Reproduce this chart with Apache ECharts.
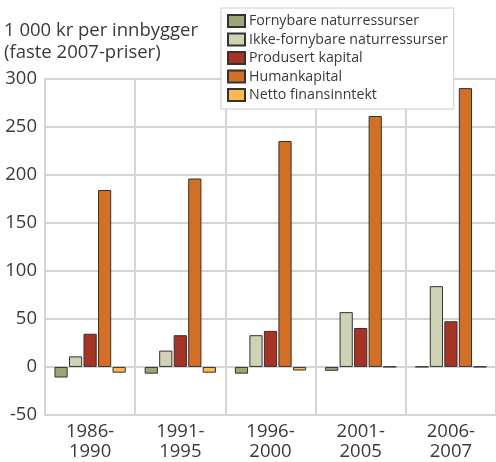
<!DOCTYPE html>
<html>
<head>
<meta charset="utf-8">
<script src="https://cdn.jsdelivr.net/npm/echarts@6/dist/echarts.min.js"></script>
<style>
  html, body { margin: 0; padding: 0; background: #fff; }
  #chart { width: 496px; height: 462px; }
</style>
</head>
<body>
<div id="chart"></div>
<script>
// perioder
const periods = ['1986-\n1990', '1991-\n1995', '1996-\n2000', '2001-\n2005', '2006-\n2007'];

// 1 000 kr per innbygger
const fornybare = [-11, -7, -7, -4, 0.2];
const ikkeFornybare = [11, 17, 33, 57, 84];
const produsert = [34.5, 33, 37.5, 40.5, 47.5];
const human = [184, 196, 235, 261, 290];
const netto = [-6, -6, -3.7, 0.2, 0.2];

const yTicks = { min: -50, max: 300, step: 50 };

const chart = echarts.init(document.getElementById('chart'));

const font = '"Open Sans", "Noto Sans", sans-serif';
const gridColor = '#d4d4d4';
const textColor = '#3a3a3a';

const makeBar = (name, data, color) => ({
  name: name,
  type: 'bar',
  data: data,
  barGap: '10%',
  barCategoryGap: '21%',
  itemStyle: {
    color: color,
    borderColor: '#333',
    borderWidth: 1
  }
});

const option = {
  animation: false,
  textStyle: { fontFamily: font },
  title: {
    text: '1 000 kr per innbygger\n(faste 2007-priser)',
    left: -1,
    top: 15,
    textStyle: {
      fontFamily: font,
      fontSize: 18.5,
      fontWeight: 'normal',
      color: textColor,
      lineHeight: 22
    }
  },
  legend: {
    orient: 'vertical',
    left: 221,
    top: 8,
    padding: [6, 6, 7, 6],
    icon: 'rect',
    itemWidth: 17,
    itemHeight: 12,
    itemGap: 4.5,
    backgroundColor: '#fff',
    borderColor: '#cccccc',
    borderWidth: 1,
    borderRadius: 0,
    textStyle: { fontFamily: font, fontSize: 14.2, lineHeight: 14, color: textColor, padding: [0, 0, 0, -1] },
    data: ['Fornybare naturressurser', 'Ikke-fornybare naturressurser', 'Produsert kapital', 'Humankapital', 'Netto finansinntekt']
  },
  grid: {
    left: 45,
    right: 0,
    top: 78.5,
    bottom: 43
  },
  xAxis: {
    type: 'category',
    data: periods,
    axisLine: { show: false },
    axisTick: { show: false },
    splitLine: { show: true, lineStyle: { color: gridColor, width: 2 } },
    axisLabel: {
      fontFamily: font,
      fontSize: 18.5,
      color: textColor,
      lineHeight: 20,
      margin: 7
    }
  },
  yAxis: {
    type: 'value',
    min: yTicks.min,
    max: yTicks.max,
    interval: yTicks.step,
    axisLine: { show: true, lineStyle: { color: gridColor, width: 2 } },
    axisTick: { show: false },
    splitLine: { show: true, lineStyle: { color: gridColor, width: 2 } },
    axisLabel: {
      fontFamily: font,
      fontSize: 18.5,
      color: textColor,
      margin: 8
    }
  },
  series: [
    makeBar('Fornybare naturressurser', fornybare, '#9ba776'),
    makeBar('Ikke-fornybare naturressurser', ikkeFornybare, '#cfd2b5'),
    makeBar('Produsert kapital', produsert, '#a83224'),
    makeBar('Humankapital', human, '#d46f26'),
    makeBar('Netto finansinntekt', netto, '#fbb94f')
  ]
};

chart.setOption(option);
</script>
</body>
</html>
